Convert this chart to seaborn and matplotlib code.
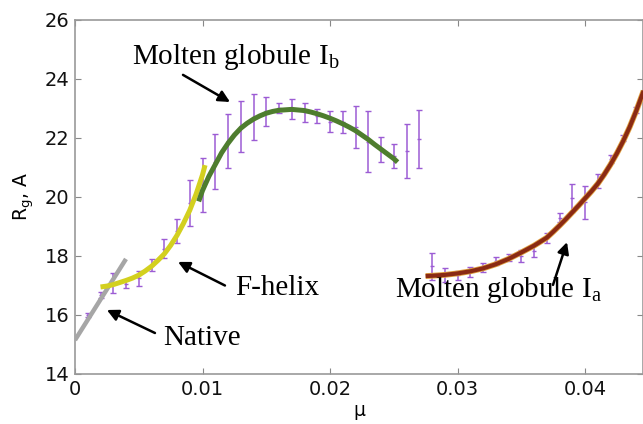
import matplotlib
matplotlib.use('Agg')
import matplotlib.pyplot as plt
import seaborn as sns
import numpy as np

# measured points with error bars
err_mu = [0.001, 0.002, 0.003, 0.004, 0.005, 0.006, 0.007, 0.008, 0.009, 0.010,
          0.011, 0.012, 0.013, 0.014, 0.015, 0.016, 0.017, 0.018, 0.019, 0.020,
          0.021, 0.022, 0.023, 0.024, 0.025, 0.026, 0.027,
          0.028, 0.029, 0.030, 0.031, 0.032, 0.033, 0.034, 0.035, 0.036, 0.037,
          0.038, 0.039, 0.040, 0.041, 0.042, 0.043, 0.044]
err_rg = [16.0, 16.68, 17.08, 17.05, 17.25, 17.7, 18.25, 18.85, 19.8, 20.4,
          21.2, 21.9, 22.4, 22.7, 22.9, 23.02, 22.98, 22.87, 22.75, 22.55,
          22.55, 22.37, 21.87, 21.6, 21.4, 21.56, 21.97,
          17.65, 17.36, 17.35, 17.45, 17.6, 17.82, 17.95, 18.0, 18.17, 18.6,
          19.3, 19.97, 19.82, 20.55, 21.28, 22.0, 22.95]
err_sd = [0.08, 0.1, 0.33, 0.15, 0.25, 0.2, 0.33, 0.4, 0.78, 0.92,
          0.93, 0.9, 0.87, 0.78, 0.5, 0.18, 0.33, 0.33, 0.23, 0.35,
          0.37, 0.72, 1.03, 0.42, 0.4, 0.91, 0.97,
          0.45, 0.24, 0.15, 0.17, 0.15, 0.13, 0.13, 0.22, 0.2, 0.17,
          0.15, 0.47, 0.56, 0.23, 0.13, 0.1, 0.1]

# fitted curves
native_mu = [0.0, 0.004]
native_rg = [15.15, 17.9]

fhelix_mu = [0.002, 0.0025, 0.003, 0.0035, 0.004, 0.0045, 0.005, 0.0055, 0.006, 0.0065, 0.007,
             0.0075, 0.008, 0.0085, 0.009, 0.0095, 0.010, 0.0102]
fhelix_rg = [16.95, 16.98, 17.03, 17.1, 17.17, 17.25, 17.35, 17.49, 17.65, 17.85, 18.07,
             18.36, 18.7, 19.1, 19.55, 20.1, 20.75, 21.08]

ib_mu = [0.0097, 0.010, 0.0105, 0.011, 0.0115, 0.012, 0.0125, 0.013, 0.0135, 0.014, 0.0145,
         0.015, 0.0155, 0.016, 0.017, 0.018, 0.0185, 0.019, 0.0195, 0.020, 0.0205, 0.021,
         0.0215, 0.022, 0.0225, 0.023, 0.0235, 0.024, 0.0245, 0.025, 0.0253]
ib_rg = [19.85, 20.22, 20.7, 21.1, 21.5, 21.82, 22.1, 22.33, 22.5, 22.64, 22.75,
         22.84, 22.9, 22.94, 22.97, 22.93, 22.88, 22.82, 22.75, 22.67, 22.58, 22.48,
         22.37, 22.25, 22.1, 21.95, 21.78, 21.62, 21.46, 21.3, 21.18]

ia_mu = [0.0275, 0.028, 0.029, 0.030, 0.031, 0.032, 0.033, 0.034, 0.035, 0.036, 0.037,
         0.0375, 0.038, 0.0385, 0.039, 0.0395, 0.040, 0.0405, 0.041, 0.0415, 0.042,
         0.0425, 0.043, 0.0435, 0.044, 0.0446]
ia_rg = [17.32, 17.33, 17.36, 17.41, 17.48, 17.58, 17.72, 17.9, 18.12, 18.35, 18.62,
         18.82, 19.03, 19.25, 19.48, 19.71, 19.95, 20.19, 20.45, 20.76, 21.1,
         21.48, 21.9, 22.37, 22.9, 23.6]

sns.set_style('white')
plt.rcParams['font.family'] = ['DejaVu Sans']
plt.rcParams['text.color'] = 'black'
plt.rcParams['axes.labelcolor'] = 'black'
plt.rcParams['xtick.color'] = 'black'
plt.rcParams['ytick.color'] = 'black'

fig = plt.figure(figsize=(6.43, 4.24), dpi=100)
ax = fig.add_axes([75 / 643, 50 / 424, 1 - 75 / 643, 354 / 424])

ax.errorbar(err_mu, err_rg, yerr=err_sd, fmt='_', color='#9c5cd4', ecolor='#9c5cd4',
            elinewidth=1.1, capsize=2.5, capthick=1.0, markersize=3, zorder=2)

line_kw = dict(ax=ax, solid_capstyle='butt', solid_joinstyle='round')
sns.lineplot(x=native_mu, y=native_rg, color='#a6a6a6', linewidth=3.2, zorder=3, **line_kw)
sns.lineplot(x=fhelix_mu, y=fhelix_rg, color='#d3d01f', linewidth=3.6, zorder=3, **line_kw)
sns.lineplot(x=ib_mu, y=ib_rg, color='#4e7d2e', linewidth=3.6, zorder=3, **line_kw)
sns.lineplot(x=ia_mu, y=ia_rg, color='#e0a040', linewidth=4.2, zorder=3, **line_kw)
sns.lineplot(x=ia_mu, y=ia_rg, color='#8a2a14', linewidth=3.0, zorder=4, **line_kw)

ax.set_xlim(0, (643 - 75) / 12750)
ax.set_ylim(14, 26)
ax.set_xticks([0, 0.01, 0.02, 0.03, 0.04])
ax.set_xticklabels(['0', '0.01', '0.02', '0.03', '0.04'])
ax.set_yticks([14, 16, 18, 20, 22, 24, 26])
ax.tick_params(direction='in', length=4, labelsize=14, color='#888888',
               labelcolor='#111111', top=True, bottom=True, left=True, right=True, pad=4)
for s in ax.spines.values():
    s.set_color('#999999')
    s.set_linewidth(1.2)

ax.set_xlabel('μ', fontsize=13.5, labelpad=2)
ax.set_ylabel(r'R$_\mathregular{g}$, A', fontsize=13.5, labelpad=6)

serif = dict(family='Liberation Serif', fontsize=21, color='black')
arrow = dict(arrowstyle='-|>', color='black', lw=1.8, mutation_scale=17, shrinkA=0, shrinkB=0)

ax.annotate(r'Molten globule I$_\mathregular{b}$', xy=(0.00447, 24.75),
            ha='left', va='center', **serif)
ax.annotate('', xy=(0.01216, 23.22), xytext=(0.00847, 24.14), arrowprops=arrow)

ax.annotate('F-helix', xy=(0.0126, 16.92), ha='left', va='center', **serif)
ax.annotate('', xy=(0.00808, 17.8), xytext=(0.01176, 17.0), arrowprops=arrow)

ax.annotate('Native', xy=(0.0069, 15.22), ha='left', va='center', **serif)
ax.annotate('', xy=(0.0025, 16.17), xytext=(0.00627, 15.39), arrowprops=arrow)

ax.annotate(r'Molten globule I$_\mathregular{a}$', xy=(0.0251, 16.85), ha='left', va='center', **serif)
ax.annotate('', xy=(0.03859, 18.47), xytext=(0.03749, 17.02), arrowprops=arrow)

fig.savefig('out.png', dpi=100)
